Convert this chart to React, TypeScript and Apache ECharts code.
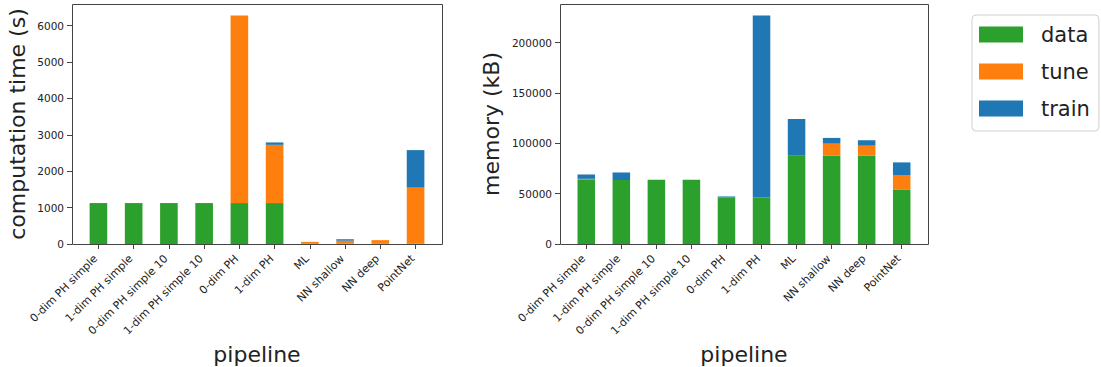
import React, { useEffect, useRef } from "react";
import * as echarts from "echarts";

// Pipelines compared in both panels
const categories = [
  "0-dim PH simple",
  "1-dim PH simple",
  "0-dim PH simple 10",
  "1-dim PH simple 10",
  "0-dim PH",
  "1-dim PH",
  "ML",
  "NN shallow",
  "NN deep",
  "PointNet",
];

// Computation time (s), stacked: data + tune + train
const timeData = [1125, 1125, 1125, 1125, 1125, 1125, 4, 6, 6, 10];
const timeTune = [0, 0, 0, 0, 5155, 1600, 55, 85, 100, 1540];
const timeTrain = [0, 0, 0, 0, 0, 65, 0, 40, 0, 1030];

// Memory (kB), stacked: data + tune + train
const memData = [63500, 63500, 63700, 63700, 46200, 46200, 87600, 87600, 87600, 53700];
const memTune = [1200, 0, 0, 0, 0, 0, 0, 12000, 10000, 14300];
const memTrain = [4300, 7500, 0, 0, 1000, 180700, 36500, 5700, 5400, 13000];

const timeTicks = [0, 1000, 2000, 3000, 4000, 5000, 6000];
const memTicks = [0, 50000, 100000, 150000, 200000];

const GREEN = "#2ca02c";
const ORANGE = "#ff7f0e";
const BLUE = "#1f77b4";
const INK = "#222";
const SPINE = "#444";

// Outer frames of the two panels; bars sit in an inner band leaving a
// quarter-category margin on each side.
const frames = [
  { left: 72, top: 4, width: 370, height: 240 },
  { left: 560, top: 4, width: 368, height: 240 },
];

export default function App() {
  const ref = useRef<HTMLDivElement>(null);

  useEffect(() => {
    if (!ref.current) return;
    const chart = echarts.init(ref.current, undefined, { renderer: "svg" });

    const totals = (a: number[], b: number[], c: number[]) =>
      a.map((v, i) => v + b[i] + c[i]);
    const timeMax = Math.max(...totals(timeData, timeTune, timeTrain)) * 1.05;
    const memMax = Math.max(...totals(memData, memTune, memTrain)) * 1.05;

    const pad = frames.map((f) => f.width / 42);
    const grids = frames.map((f, k) => ({
      left: f.left + pad[k],
      top: f.top,
      width: f.width - 2 * pad[k],
      height: f.height,
      containLabel: false,
      outerBoundsMode: "none",
    }));

    const xAxis = [0, 1].map((k) => ({
      type: "category",
      gridIndex: k,
      data: categories,
      boundaryGap: true,
      axisLine: { show: false },
      axisTick: {
        show: true,
        alignWithLabel: true,
        length: 5,
        lineStyle: { color: SPINE, width: 1 },
      },
      axisLabel: {
        interval: 0,
        rotate: 45,
        margin: 10,
        padding: [0, 4, 0, 0],
        fontSize: 11,
        color: INK,
      },
      name: "pipeline",
      nameLocation: "middle",
      nameGap: 91,
      nameTextStyle: { fontSize: 22, color: INK },
    }));

    const yAxisBase = (k: number, max: number, ticks: number[], name: string, gap: number) => ({
      type: "value",
      gridIndex: k,
      min: 0,
      max,
      offset: pad[k],
      splitLine: { show: false },
      axisLine: { show: false },
      axisTick: {
        show: true,
        length: 5,
        customValues: ticks,
        lineStyle: { color: SPINE, width: 1 },
      },
      axisLabel: {
        customValues: ticks,
        margin: 8,
        fontSize: 10.5,
        color: INK,
        formatter: (v: number) => String(v),
      },
      name,
      nameLocation: "middle",
      nameGap: gap,
      nameTextStyle: { fontSize: 22, color: INK },
    });

    const mk = (name: string, color: string, k: number, stack: string, vals: number[]) => ({
      type: "bar",
      name,
      xAxisIndex: k,
      yAxisIndex: k,
      stack,
      barWidth: "50%",
      itemStyle: { color },
      data: vals,
    });

    chart.setOption({
      animation: false,
      textStyle: { fontFamily: "DejaVu Sans" },
      grid: grids,
      graphic: frames.map((f) => ({
        type: "rect",
        silent: true,
        z: 100,
        shape: { x: f.left + 0.5, y: f.top + 0.5, width: f.width, height: f.height },
        style: { fill: "none", stroke: SPINE, lineWidth: 1 },
      })),
      legend: {
        data: ["data", "tune", "train"],
        orient: "vertical",
        left: 972,
        top: 15,
        icon: "rect",
        itemWidth: 44,
        itemHeight: 16,
        itemGap: 16,
        padding: [9, 9, 12, 7],
        borderColor: "#d0d0d0",
        borderWidth: 1,
        borderRadius: 4,
        backgroundColor: "#fff",
        textStyle: { fontSize: 21, color: INK, padding: [0, 0, 0, 13] },
      },
      xAxis,
      yAxis: [
        yAxisBase(0, timeMax, timeTicks, "computation time (s)", 44),
        yAxisBase(1, memMax, memTicks, "memory (kB)", 58),
      ],
      series: [
        mk("data", GREEN, 0, "time", timeData),
        mk("tune", ORANGE, 0, "time", timeTune),
        mk("train", BLUE, 0, "time", timeTrain),
        mk("data", GREEN, 1, "mem", memData),
        mk("tune", ORANGE, 1, "mem", memTune),
        mk("train", BLUE, 1, "mem", memTrain),
      ],
    });

    return () => chart.dispose();
  }, []);

  return (
    <div
      ref={ref}
      style={{ position: "fixed", left: 0, top: 0, width: 1101, height: 367, background: "#fff" }}
    />
  );
}
